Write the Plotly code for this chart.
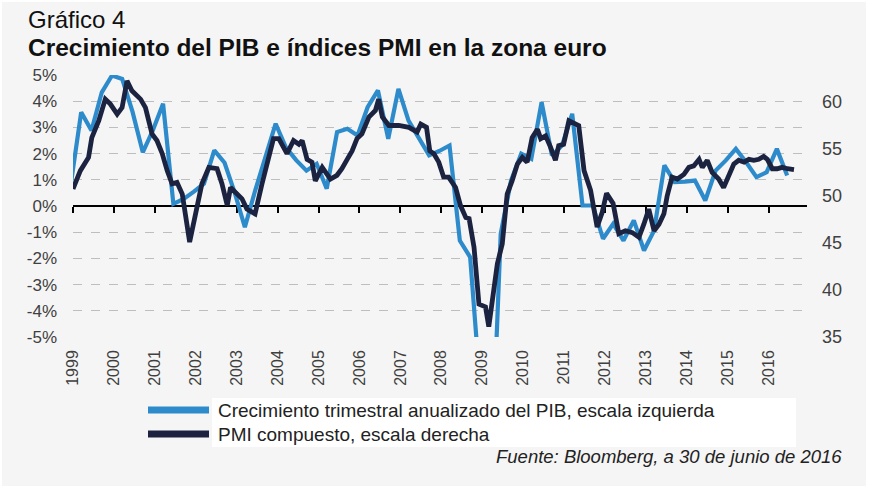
import plotly.graph_objects as go
import pandas as pd
from datetime import datetime

# ---------------- data ----------------
# Quarterly annualised GDP growth (%), one value per quarter, first one is Q4 1998
gdp_values = [0.9, 3.58, 2.88, 4.34, 4.98, 4.85, 3.6, 2.05, 2.9, 3.9,
              0.08, 0.27, 0.55, 0.85, 2.12, 1.65, 0.5, -0.81, 0.59, 1.85,
              3.14, 2.24, 1.75, 1.35, 1.61, 0.66, 2.82, 2.95, 2.69, 3.77,
              4.41, 2.56, 4.47, 3.26, 2.56, 1.93, 2.1, 2.31, -1.32, -1.95,
              -7.0, -11.0, -1.06, 0.97, 2.0, 1.8, 3.96, 1.93, 2.31, 3.52,
              0.02, 0.02, -1.25, -0.68, -1.32, -0.55, -1.7, -0.94, 1.55, 0.91,
              0.93, 0.97, 0.21, 1.35, 1.74, 2.18, 1.67, 1.1, 1.29, 2.18,
              1.16]
gdp_first_quarter = "1998-12-01"

# Composite PMI, read at the visible vertices (decimal year, value)
pmi_t = [1999.00, 1999.06, 1999.18, 1999.38, 1999.46, 1999.63, 1999.79, 1999.91, 2000.08, 2000.20,
         2000.32, 2000.44, 2000.65, 2000.77, 2000.93, 2001.05, 2001.18, 2001.30, 2001.42, 2001.54,
         2001.67, 2001.85, 2001.99, 2002.15, 2002.32, 2002.52, 2002.64, 2002.77, 2002.85, 2003.01,
         2003.13, 2003.25, 2003.45, 2003.62, 2003.82, 2003.90, 2004.03, 2004.23, 2004.39, 2004.52,
         2004.60, 2004.72, 2004.84, 2004.92, 2005.09, 2005.29, 2005.45, 2005.57, 2005.70, 2005.82,
         2005.94, 2006.06, 2006.23, 2006.39, 2006.47, 2006.56, 2006.72, 2006.96, 2007.21, 2007.41,
         2007.50, 2007.64, 2007.72, 2007.82, 2007.94, 2008.06, 2008.18, 2008.35, 2008.47, 2008.60,
         2008.68, 2008.80, 2008.92, 2009.08, 2009.16, 2009.24, 2009.37, 2009.49, 2009.61, 2009.73,
         2009.86, 2009.98, 2010.10, 2010.22, 2010.35, 2010.43, 2010.55, 2010.67, 2010.79, 2010.87,
         2010.99, 2011.12, 2011.24, 2011.36, 2011.49, 2011.65, 2011.81, 2011.93, 2012.04, 2012.20,
         2012.34, 2012.50, 2012.67, 2012.83, 2012.95, 2013.07, 2013.20, 2013.32, 2013.44, 2013.52,
         2013.64, 2013.77, 2013.93, 2014.05, 2014.17, 2014.30, 2014.38, 2014.50, 2014.62, 2014.78,
         2014.90, 2015.03, 2015.15, 2015.27, 2015.40, 2015.52, 2015.64, 2015.76, 2015.88, 2015.97,
         2016.09, 2016.21, 2016.33, 2016.46, 2016.62]
pmi_values = [50.75, 51.3, 52.7, 54.1, 56.2, 58.0, 60.3, 59.8, 58.7, 59.4,
              62.25, 61.2, 60.3, 59.4, 56.6, 55.9, 54.5, 52.7, 51.3, 51.45,
              50.2, 45.1, 48.1, 51.3, 53.05, 52.9, 51.3, 49.0, 50.9, 50.2,
              49.7, 48.6, 48.1, 51.3, 54.5, 56.1, 56.1, 54.5, 55.9, 55.5,
              55.9, 53.9, 53.6, 51.6, 53.05, 51.8, 52.2, 52.9, 53.9, 54.8,
              56.1, 56.6, 58.4, 59.1, 60.3, 58.4, 57.5, 57.5, 57.3, 56.8,
              57.65, 57.3, 54.8, 54.5, 53.6, 52.0, 52.0, 50.9, 48.98, 47.7,
              47.6, 44.55, 38.5, 38.2, 36.1, 38.9, 42.8, 44.9, 50.2, 51.6,
              53.4, 54.1, 53.6, 56.2, 57.1, 56.1, 56.4, 55.2, 53.8, 55.35,
              55.5, 58.0, 57.8, 57.5, 52.7, 50.6, 46.7, 48.2, 50.3, 49.2,
              46.0, 46.3, 46.1, 45.6, 47.0, 48.6, 46.3, 47.0, 48.1, 50.0,
              52.0, 51.8, 52.3, 53.05, 53.2, 53.9, 53.05, 53.8, 52.5, 51.8,
              50.9, 52.3, 53.4, 53.8, 53.6, 53.9, 53.8, 53.9, 54.2, 53.9,
              52.9, 52.9, 53.05, 52.9, 52.8]

years = list(range(1999, 2017))
year_labels = [str(y) for y in years]
left_ticks = [5, 4, 3, 2, 1, 0, -1, -2, -3, -4, -5]
left_labels = ["5%", "4%", "3%", "2%", "1%", "0%", "-1%", "-2%", "-3%", "-4%", "-5%"]
right_ticks = [35, 40, 45, 50, 55, 60]

title_small = "Gráfico 4"
title_main = "Crecimiento del PIB e índices PMI en la zona euro"
name_gdp = "Crecimiento trimestral anualizado del PIB, escala izquierda"
name_pmi = "PMI compuesto, escala derecha"
source = "Fuente: Bloomberg, a 30 de junio de 2016"

# ---------------- helpers ----------------
def dec_to_date(t):
    y = int(t)
    start = datetime(y, 1, 1)
    end = datetime(y + 1, 1, 1)
    return start + (end - start) * (t - y)

gdp_dates = pd.date_range(gdp_first_quarter, periods=len(gdp_values), freq="3MS") + pd.Timedelta(days=14)
pmi_dates = [dec_to_date(t) for t in pmi_t]
tick_dates = [f"{y}-01-01" for y in years]

BLUE = "#2D8BCB"
NAVY = "#1B2340"
BG = "#F5F5F5"
FONT = "Liberation Sans, Arial, sans-serif"
TXT = "#404040"

W, H = 869, 488
ML, MR, MT, MB = 73, 62, 75, 151
PW, PH = W - ML - MR, H - MT - MB

def px_x(px):
    return (px - ML) / PW

def px_y(py):
    return (H - MB - py) / PH

fig = go.Figure()
fig.add_trace(go.Scatter(x=gdp_dates, y=gdp_values, mode="lines", name=name_gdp,
                         line=dict(color=BLUE, width=4.2), xaxis="x", yaxis="y",
                         showlegend=False))
fig.add_trace(go.Scatter(x=pmi_dates, y=pmi_values, mode="lines", name=name_pmi,
                         line=dict(color=NAVY, width=4.8), xaxis="x", yaxis="y2",
                         showlegend=False))
# carrier for the bottom label axis
fig.add_trace(go.Scatter(x=tick_dates, y=[None] * len(tick_dates), mode="lines",
                         xaxis="x2", yaxis="y", showlegend=False, hoverinfo="skip"))

x_range = ["1999-01-01", "2016-12-09"]

fig.update_layout(
    width=W, height=H, autosize=False,
    margin=dict(l=ML, r=MR, t=MT, b=MB, pad=0),
    paper_bgcolor="white", plot_bgcolor=BG,
    font=dict(family=FONT, color=TXT),
    showlegend=False,
    xaxis=dict(type="date", range=x_range, anchor="free", position=0.5,
               showline=True, linecolor="#000000", linewidth=2,
               ticks="outside", ticklen=6, tickwidth=2, tickcolor="#000000",
               tickvals=tick_dates, showticklabels=False, showgrid=False,
               zeroline=False, layer="below traces"),
    xaxis2=dict(type="date", range=x_range, overlaying="x", anchor="y", side="bottom",
                tickvals=tick_dates, ticktext=year_labels, tickangle=-90,
                showline=False, ticks="", showgrid=False, zeroline=False,
                ticklabelstandoff=9, tickfont=dict(size=16, color=TXT, family=FONT)),
    yaxis=dict(range=[-5, 5], tickvals=left_ticks, ticktext=left_labels,
               showgrid=True, gridcolor="#BEBEBE", griddash="dash", gridwidth=1,
               zeroline=False, showline=False, ticks="",
               ticklabelstandoff=15, tickfont=dict(size=17, color=TXT, family=FONT)),
    yaxis2=dict(range=[35, 62.87], overlaying="y", side="right", anchor="x",
                tickvals=right_ticks, showgrid=False, zeroline=False, showline=False,
                ticks="", ticklabelstandoff=14,
                tickfont=dict(size=18, color=TXT, family=FONT)),
)

shapes = [
    # light grey panel
    dict(type="rect", xref="paper", yref="paper", x0=px_x(2), x1=px_x(866),
         y0=px_y(486), y1=px_y(2), fillcolor=BG, line=dict(width=0), layer="below"),
    # white box behind legend text
    dict(type="rect", xref="paper", yref="paper", x0=px_x(212), x1=px_x(796),
         y0=px_y(447), y1=px_y(398), fillcolor="white", line=dict(width=0), layer="below"),
    # legend swatches
    dict(type="line", xref="paper", yref="paper", x0=px_x(148), x1=px_x(209),
         y0=px_y(410), y1=px_y(410), line=dict(color=BLUE, width=7)),
    dict(type="line", xref="paper", yref="paper", x0=px_x(148), x1=px_x(209),
         y0=px_y(434), y1=px_y(434), line=dict(color=NAVY, width=7)),
]
fig.update_layout(shapes=shapes)

ann = [
    dict(text=title_small, x=px_x(26), y=px_y(19), xanchor="left", yanchor="middle",
         font=dict(size=24, color="#111111", family=FONT)),
    dict(text="<b>" + title_main + "</b>", x=px_x(26), y=px_y(47), xanchor="left",
         yanchor="middle", font=dict(size=24.5, color="#111111", family=FONT)),
    dict(text=name_gdp, x=px_x(216), y=px_y(410), xanchor="left", yanchor="middle",
         font=dict(size=19, color="#222222", family=FONT)),
    dict(text=name_pmi, x=px_x(216), y=px_y(434), xanchor="left", yanchor="middle",
         font=dict(size=19, color="#222222", family=FONT)),
    dict(text="<i>" + source + "</i>", x=px_x(844), y=px_y(456), xanchor="right",
         yanchor="middle", font=dict(size=18.5, color="#222222", family=FONT)),
]
for a in ann:
    a.update(xref="paper", yref="paper", showarrow=False)
fig.update_layout(annotations=ann)

fig.write_html("out.html")
